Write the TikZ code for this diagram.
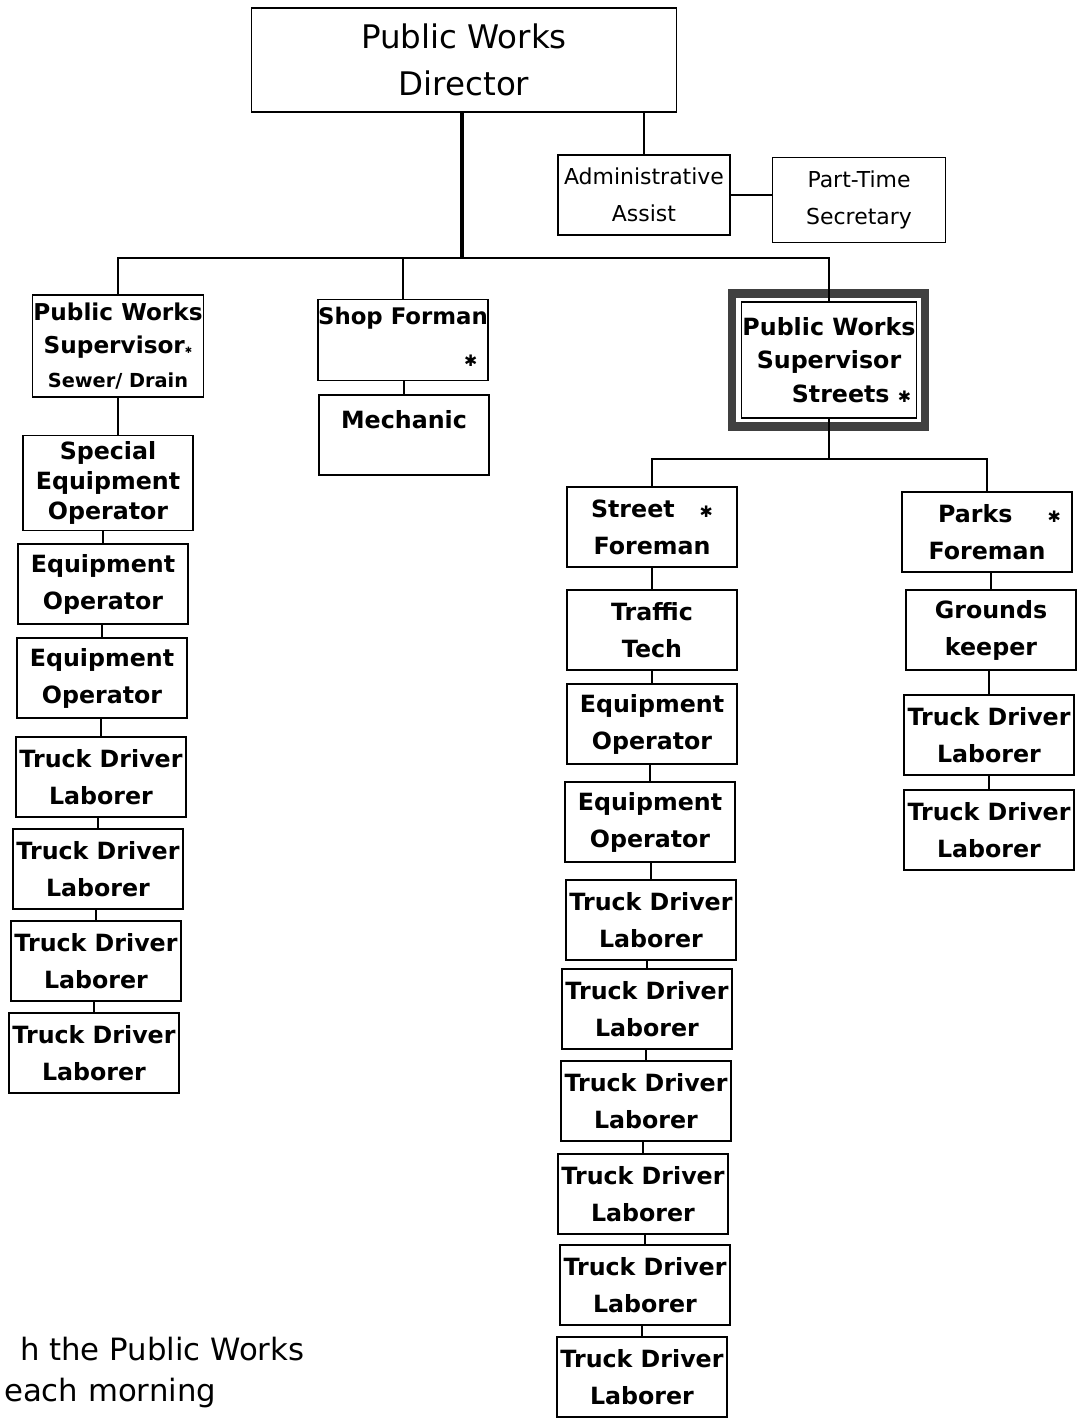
\documentclass[tikz,border=0pt]{standalone}
\usepackage{fontspec}
\setmainfont{DejaVu Sans}
\usetikzlibrary{positioning}
\newcommand{\pwstar}{✱}
\tikzset{
  box/.style={draw, line width=0.6pt, minimum width=3.4cm, minimum height=1.6cm,
              align=center, inner sep=0pt, font=\bfseries\fontsize{13.5}{21}\selectfont},
  link/.style={line width=0.6pt},
}

\begin{document}
\begin{tikzpicture}[x=0.02cm, y=-0.02cm]
\useasboundingbox (0,0) rectangle (1079,1418);

% director and office
\node[box, minimum width=8.52cm, minimum height=2.08cm, font=\fontsize{18.5}{27}\selectfont] (dir) at (464,60) {Public Works\\Director};
\node[box, minimum width=3.44cm, font=\fontsize{12.5}{21}\selectfont] (adm) at (644,195) {Administrative\\Assist};
\node[box, minimum width=3.46cm, minimum height=1.7cm, font=\fontsize{12.5}{21}\selectfont] (pts) at (859,200) {Part-Time\\Secretary};

% supervisors
\node[box, minimum width=3.42cm, minimum height=2.04cm, font=\bfseries\fontsize{13.2}{19}\selectfont] (sew) at (118,346)
  {Public Works\\Supervisor{\tiny\pwstar}\\{\fontsize{11}{19}\selectfont Sewer/ Drain}};
\node[box, minimum height=1.62cm, font=\bfseries\fontsize{13}{21}\selectfont] (shop) at (403,340) {Shop Forman\\\strut};
\node[anchor=south east, font=\small] (shopstar) at ([shift={(-5,-8)}]shop.south east) {\pwstar};
\node[box, font=\bfseries\fontsize{13.5}{14}\selectfont] (mech) at (404,435) {Mechanic\\\strut};
\node[box, minimum width=3.5cm, minimum height=2.32cm, font=\bfseries\fontsize{13.5}{19}\selectfont] (sts) at (829,360)
  {Public Works\\Supervisor\\\hspace*{0.9cm}Streets~{\small\pwstar}};
\draw[line width=5pt, black!75] ([shift={(-9,-8)}]sts.north west) rectangle ([shift={(8,8)}]sts.south east);

% sewer / drain crew
\node[box, minimum height=1.9cm, font=\bfseries\fontsize{13.5}{17}\selectfont] (speq) at (108,483) {Special\\Equipment\\Operator};
\node[box] (eqa) at (103,584) {Equipment\\Operator};
\node[box] (eqb) at (102,678) {Equipment\\Operator};
\node[box] (tda) at (101,777) {Truck Driver\\Laborer};
\node[box] (tdb) at (98,869) {Truck Driver\\Laborer};
\node[box] (tdc) at (96,961) {Truck Driver\\Laborer};
\node[box] (tdd) at (94,1053) {Truck Driver\\Laborer};

% streets crew
\node[box] (stf) at (652,527) {Street\hspace{0.5cm}{\small\pwstar}\\Foreman};
\node[box] (trf) at (652,630) {Traffic\\Tech};
\node[box] (seqa) at (652,724) {Equipment\\Operator};
\node[box] (seqb) at (650,822) {Equipment\\Operator};
\node[box] (stda) at (651,920) {Truck Driver\\Laborer};
\node[box] (stdb) at (647,1009) {Truck Driver\\Laborer};
\node[box] (stdc) at (646,1101) {Truck Driver\\Laborer};
\node[box] (stdd) at (643,1194) {Truck Driver\\Laborer};
\node[box] (stde) at (645,1285) {Truck Driver\\Laborer};
\node[box] (stdf) at (642,1377) {Truck Driver\\Laborer};

% parks crew
\node[box] (pkf) at (987,532) {\hspace*{0.5cm}Parks\hspace{0.7cm}{\small\pwstar}\\Foreman};
\node[box] (grk) at (991,630) {Grounds\\keeper};
\node[box] (ptda) at (989,735) {Truck Driver\\Laborer};
\node[box] (ptdb) at (989,830) {Truck Driver\\Laborer};

% note
\node[anchor=west, font=\fontsize{17.5}{20}\selectfont] (notea) at (14,1349) {h the Public Works};
\node[anchor=west, font=\fontsize{17.5}{20}\selectfont] (noteb) at (-2,1393) {each morning};

% connectors
\coordinate (bus) at (462,258);
\coordinate (sbus) at (828,459);
\draw[line width=2.3pt] (dir.south -| bus) -- (bus);
\draw[link] (adm.north) -- (adm.north |- dir.south);
\draw[link] (adm.east) -- (adm.east -| pts.west);
\draw[link] (sew.north) -- (sew.north |- bus) -- (sts.north |- bus) -- (sts.north);
\draw[link] (shop.north) -- (shop.north |- bus);
\draw[link] (sts.south) -- (sts.south |- sbus);
\draw[link] (stf.north) -- (stf.north |- sbus) -- (pkf.north |- sbus) -- (pkf.north);
\draw[link] (sew.south) -- (sew.south |- speq.north);
\foreach \a/\b in {speq/eqa, eqa/eqb, eqb/tda, tda/tdb, tdb/tdc, tdc/tdd,
                   shop/mech,
                   stf/trf, trf/seqa, seqa/seqb, seqb/stda, stda/stdb, stdb/stdc, stdc/stdd, stdd/stde, stde/stdf,
                   pkf/grk, grk/ptda, ptda/ptdb}
  \draw[link] (\b.north) -- (\b.north |- \a.south);

\end{tikzpicture}
\end{document}
